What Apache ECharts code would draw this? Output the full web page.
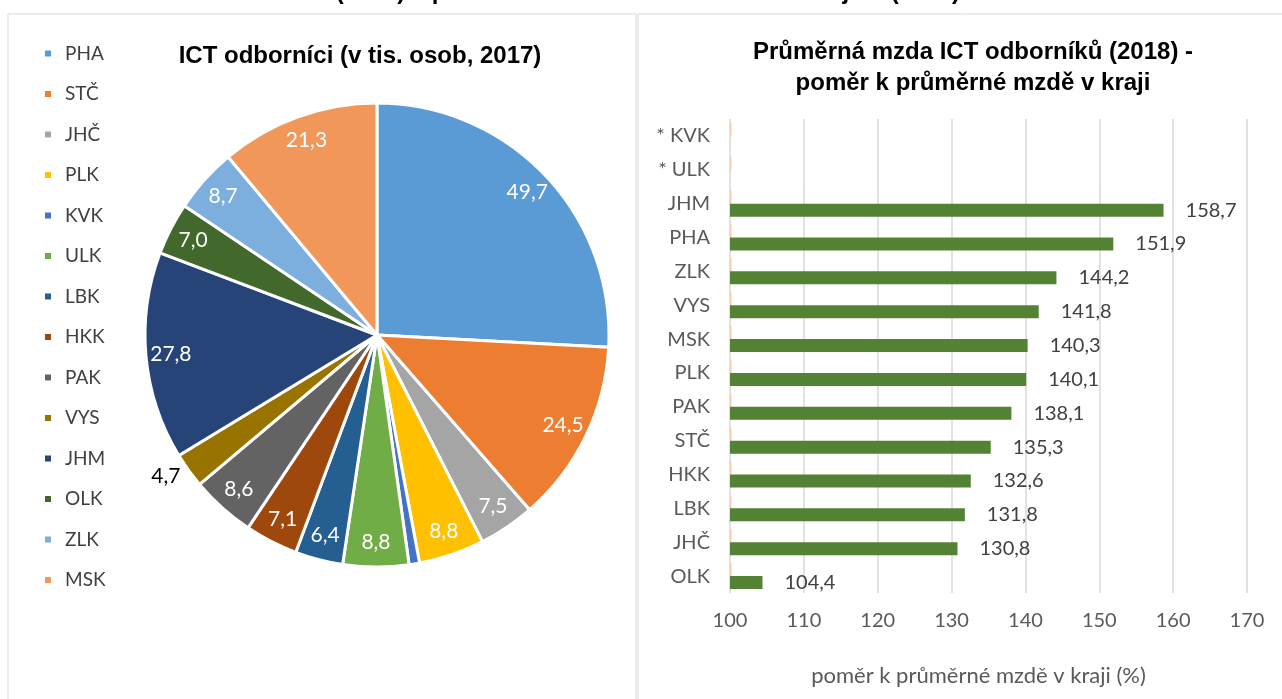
<!DOCTYPE html>
<html>
<head>
<meta charset="utf-8">
<script src="https://cdn.jsdelivr.net/npm/echarts@6/dist/echarts.min.js"></script>
<style>
  html, body { margin: 0; padding: 0; background: #fff; }
  #chart { width: 1282px; height: 699px; }
</style>
</head>
<body>
<div id="chart"></div>
<script>
// ICT odborníci po krajích (tis. osob, 2017)
const regions = ["PHA", "STČ", "JHČ", "PLK", "KVK", "ULK", "LBK", "HKK", "PAK", "VYS", "JHM", "OLK", "ZLK", "MSK"];
const experts = [49.7, 24.5, 7.5, 8.8, 1.4, 8.8, 6.4, 7.1, 8.6, 4.7, 27.8, 7.0, 8.7, 21.3];
const pieColors = ["#5B9BD5", "#ED7D31", "#A5A5A5", "#FFC000", "#4472C4", "#70AD47", "#255E91",
  "#9E480E", "#636363", "#997300", "#264478", "#43682B", "#7CAFDD", "#F1975A"];

// poměr mzdy ICT odborníků k průměrné mzdě v kraji (2018)
const wageRegions = ["* KVK", "* ULK", "JHM", "PHA", "ZLK", "VYS", "MSK", "PLK", "PAK", "STČ", "HKK", "LBK", "JHČ", "OLK"];
const wageRatio = [null, null, 158.7, 151.9, 144.2, 141.8, 140.3, 140.1, 138.1, 135.3, 132.6, 131.8, 130.8, 104.4];
const wageMarker = [100.2, 100.2, 100.2, 100.2, 100.2, 100.2, 100.2, 100.2, 100.2, 100.2, 100.2, 100.2, 100.2, 100.2];
const xTicks = [100, 110, 120, 130, 140, 150, 160, 170];

const labelFont = "Lato, 'Open Sans', sans-serif";
const titleFont = "'Liberation Sans', Arial, sans-serif";
const comma = (v) => String(v).replace(".", ",");

var myChart = echarts.init(document.getElementById("chart"));

const pieData = regions.map((name, i) => {
  return { name: name, value: experts[i], itemStyle: { color: pieColors[i] } };
});
const pieLabels = regions.map((name, i) => {
  const item = { name: name, value: experts[i] };
  if (name === "KVK") {
    item.label = { show: false };
  }
  if (name === "VYS") {
    item.label = { position: "outside", color: "#000", distanceToLabelLine: 0 };
    item.labelLine = { show: false, length: 10, length2: 0 };
  }
  return item;
});

var option = {
  backgroundColor: "#fff",
  animation: false,
  graphic: [
    {
      type: "rect",
      shape: { x: 8, y: 14, width: 628, height: 700 },
      style: { fill: "none", stroke: "#d9d9d9", lineWidth: 1 },
      silent: true,
    },
    {
      type: "rect",
      shape: { x: 638, y: 14, width: 660, height: 700 },
      style: { fill: "none", stroke: "#d9d9d9", lineWidth: 1 },
      silent: true,
    },
    {
      type: "text",
      right: 322,
      top: -20,
      style: {
        text: "Graf 10: ICT odborníci (2017) a průměrná mzda ICT odborníků v krajích (2018)",
        font: "bold 24px " + titleFont,
        fill: "#000",
      },
      silent: true,
    },
  ],
  title: [
    {
      text: "ICT odborníci (v tis. osob, 2017)",
      left: 355,
      top: 39,
      textAlign: "center",
      textStyle: { fontFamily: titleFont, fontWeight: "bold", fontSize: 24, color: "#000" },
    },
    {
      text: "Průměrná mzda ICT odborníků (2018) -\npoměr k průměrné mzdě v kraji",
      left: 968,
      top: 32,
      textAlign: "center",
      textStyle: { fontFamily: titleFont, fontWeight: "bold", fontSize: 24, color: "#000", lineHeight: 31 },
    },
  ],
  legend: {
    data: regions,
    orient: "vertical",
    left: 38,
    top: 39,
    itemWidth: 8,
    itemHeight: 8,
    itemGap: 21.5,
    icon: "rect",
    selectedMode: false,
    textStyle: { fontFamily: labelFont, fontSize: 19, color: "#404040", padding: [0, 0, 0, 8] },
  },
  grid: {
    left: 730,
    right: 35,
    top: 119,
    bottom: 106,
  },
  xAxis: {
    type: "value",
    min: xTicks[0],
    max: xTicks[xTicks.length - 1],
    interval: 10,
    name: "poměr k průměrné mzdě v kraji (%)",
    nameLocation: "middle",
    nameGap: 72,
    nameTextStyle: { fontFamily: labelFont, fontSize: 22, color: "#595959", padding: [0, 20, 0, 0] },
    axisLine: { show: false },
    axisTick: { show: false },
    axisLabel: { fontFamily: labelFont, fontSize: 20, color: "#595959", margin: 18 },
    splitLine: { show: true, lineStyle: { color: "#d9d9d9", width: 1.5 } },
  },
  yAxis: {
    type: "category",
    inverse: true,
    data: wageRegions,
    axisLine: { show: false },
    axisTick: { show: false },
    axisLabel: { fontFamily: labelFont, fontSize: 20, color: "#595959", margin: 20 },
  },
  series: [
    {
      type: "pie",
      center: [377, 335],
      radius: [0, 232],
      startAngle: 90,
      clockwise: true,
      avoidLabelOverlap: false,
      silent: true,
      label: { show: false },
      labelLine: { show: false },
      itemStyle: { borderColor: "#fff", borderWidth: 3 },
      data: pieData,
    },
    {
      // jen popisky hodnot, posunuté blíž k okraji koláče
      type: "pie",
      center: [377, 335],
      radius: [176, 232],
      startAngle: 90,
      clockwise: true,
      avoidLabelOverlap: false,
      silent: true,
      itemStyle: { color: "rgba(0,0,0,0)", borderWidth: 0 },
      label: {
        show: true,
        position: "inside",
        color: "#fff",
        fontFamily: labelFont,
        fontSize: 21,
        formatter: (p) => comma(p.value.toFixed(1)),
      },
      labelLine: { show: false },
      data: pieLabels,
    },
    {
      type: "bar",
      data: wageMarker,
      barWidth: 13,
      barGap: "0%",
      itemStyle: { color: "#F8CBAD" },
      silent: true,
    },
    {
      type: "bar",
      data: wageRatio,
      barWidth: 13,
      barGap: "0%",
      itemStyle: { color: "#548235" },
      label: {
        show: true,
        position: "right",
        distance: 22,
        fontFamily: labelFont,
        fontSize: 20,
        color: "#404040",
        formatter: (p) => comma(p.value.toFixed(1)),
      },
      silent: true,
    },
  ],
};
myChart.setOption(option);
</script>
</body>
</html>
